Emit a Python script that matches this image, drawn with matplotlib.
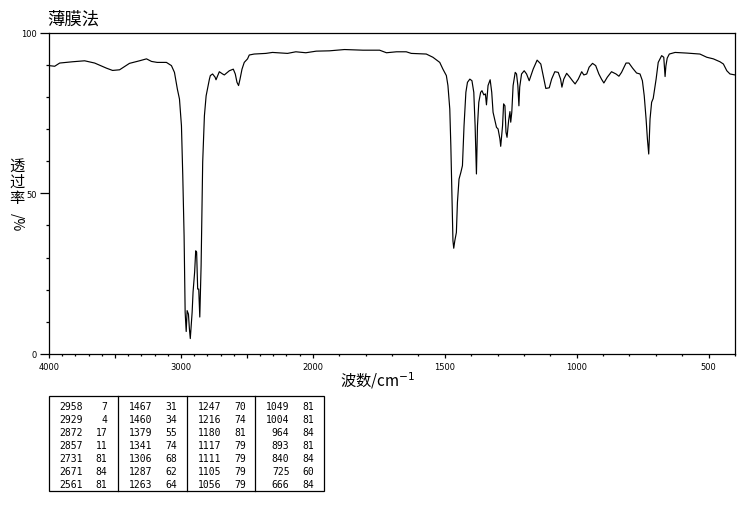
import numpy as np
import matplotlib
matplotlib.use("Agg")
import matplotlib.pyplot as plt
from matplotlib.ticker import FixedLocator, FuncFormatter

plt.rcParams['font.family'] = ['Noto Sans CJK SC', 'DejaVu Sans']

# ---------------- data ----------------
wavenumber = [4000, 3957, 3919, 3821, 3730, 3654, 3564, 3518, 3465, 3390, 3314, 3261, 3223, 3180,
              3110, 3072, 3049, 3027, 3011, 2996, 2986, 2976, 2968, 2960, 2953, 2943, 2936, 2929,
              2915, 2908, 2896, 2888, 2881, 2873, 2865, 2857, 2847, 2840, 2835, 2822, 2809, 2784,
              2777, 2760, 2741, 2734, 2709, 2684, 2671, 2654, 2633, 2603, 2588, 2575, 2563, 2552,
              2537, 2520, 2495, 2482, 2445, 2356, 2306, 2192, 2129, 2053, 1987, 1937, 1880, 1810,
              1747, 1721, 1683, 1646, 1627, 1570, 1545, 1519, 1507, 1494, 1488, 1481, 1477, 1472,
              1469, 1466, 1462, 1456, 1452, 1446, 1439, 1433, 1427, 1420, 1414, 1405, 1397, 1390,
              1385, 1380, 1376, 1371, 1364, 1359, 1352, 1346, 1342, 1336, 1328, 1322, 1317, 1310,
              1304, 1298, 1291, 1288, 1281, 1277, 1272, 1268, 1264, 1258, 1253, 1250, 1246, 1241,
              1233, 1228, 1223, 1219, 1216, 1209, 1199, 1190, 1180, 1165, 1150, 1136, 1127, 1117,
              1104, 1095, 1083, 1070, 1061, 1056, 1049, 1038, 1026, 1016, 1006, 994, 981, 973,
              962, 953, 940, 928, 916, 906, 897, 884, 868, 851, 840, 830, 813, 802, 788, 773,
              760, 751, 744, 737, 732, 727, 722, 716, 710, 699, 691, 678, 670, 667, 665, 662,
              657, 649, 640, 627, 583, 533, 507, 482, 457, 444, 431, 419, 400]
transmittance = [89.7, 89.5, 90.5, 90.9, 91.2, 90.5, 88.9, 88.2, 88.4, 90.4, 91.2, 91.8, 91.0, 90.7,
                 90.7, 89.7, 87.6, 82.4, 79.3, 71.0, 55.5, 36.8, 13.0, 7.0, 13.5, 12.4, 8.0, 4.8,
                 13.0, 19.3, 25.5, 32.1, 31.7, 20.2, 20.2, 11.5, 27.5, 47.3, 59.7, 74.1, 80.3, 85.5,
                 86.6, 87.1, 86.1, 85.3, 87.8, 87.1, 86.8, 87.4, 88.1, 88.6, 87.1, 84.5, 83.5, 85.5,
                 88.6, 90.7, 91.8, 93.0, 93.3, 93.5, 93.8, 93.5, 94.0, 93.7, 94.2, 94.3, 94.7, 94.5,
                 94.5, 93.7, 94.0, 94.0, 93.5, 93.3, 92.3, 90.7, 88.6, 86.6, 83.5, 76.2, 64.8, 46.1,
                 35.2, 32.9, 35.2, 37.8, 47.2, 54.4, 56.5, 58.6, 71.0, 81.4, 84.5, 85.5, 85.0, 81.4,
                 71.0, 56.0, 71.0, 78.3, 81.4, 81.9, 80.6, 80.9, 77.5, 83.5, 85.3, 81.4, 75.2, 72.6,
                 70.5, 70.0, 66.9, 64.6, 71.0, 77.8, 77.2, 69.0, 67.4, 72.6, 75.4, 72.1, 75.2, 83.5,
                 87.6, 87.1, 83.5, 77.2, 83.0, 87.1, 88.1, 87.1, 85.0, 88.6, 91.4, 90.2, 86.6, 82.6,
                 82.8, 85.5, 87.8, 87.6, 85.5, 83.0, 85.5, 87.3, 86.1, 85.0, 84.0, 85.5, 87.8, 86.8,
                 87.1, 89.2, 90.4, 89.7, 87.1, 85.5, 84.3, 86.1, 87.8, 87.1, 86.4, 87.6, 90.5, 90.5,
                 88.9, 87.4, 87.1, 85.0, 80.3, 73.1, 66.9, 62.2, 73.1, 78.3, 79.5, 85.5, 90.7, 92.8,
                 92.3, 88.6, 86.3, 89.5, 92.0, 93.3, 93.5, 93.8, 93.6, 93.3, 92.3, 91.8, 90.9, 90.2,
                 88.1, 87.1, 86.8]

x_major_ticks = [4000, 3500, 3000, 2500, 2000, 1500, 1000, 500]
x_tick_labels = {4000: "4000", 3000: "3000", 2000: "2000", 1500: "1500", 1000: "1000", 500: "500"}
y_major_ticks = [0, 50, 100]

peak_table = [
    [(2958, 7), (2929, 4), (2872, 17), (2857, 11), (2731, 81), (2671, 84), (2561, 81)],
    [(1467, 31), (1460, 34), (1379, 55), (1341, 74), (1306, 68), (1287, 62), (1263, 64)],
    [(1247, 70), (1216, 74), (1180, 81), (1117, 79), (1111, 79), (1105, 79), (1056, 79)],
    [(1049, 81), (1004, 81), (964, 84), (893, 81), (840, 84), (725, 60), (666, 84)],
]

title_text = "薄膜法"
xlabel_text = "波数/cm$^{-1}$"
ylabel_chars = ["透", "过", "率"]

# ---------------- figure ----------------
W, H = 737, 510
fig = plt.figure(figsize=(W / 100, H / 100), dpi=100)
ax = fig.add_axes([49 / W, 1 - 355 / H, (735 - 49) / W, (355 - 33.5) / H])


def fwd(x):
    x = np.asarray(x, dtype=float)
    return np.where(x >= 2000, 3.2 + (x - 2000) / 1000.0, (x - 400) / 500.0)


def inv(u):
    u = np.asarray(u, dtype=float)
    return np.where(u >= 3.2, 2000 + (u - 3.2) * 1000.0, 400 + u * 500.0)


ax.set_xscale('function', functions=(fwd, inv))
ax.plot(wavenumber, transmittance, color='black', lw=0.85)
ax.set_xlim(4000, 400)
ax.set_ylim(0, 100)

minor_x = [v for v in range(4000, 399, -100) if v not in x_major_ticks]
ax.xaxis.set_major_locator(FixedLocator(x_major_ticks))
ax.xaxis.set_minor_locator(FixedLocator(minor_x))
ax.xaxis.set_major_formatter(FuncFormatter(lambda v, p: x_tick_labels.get(int(round(v)), "")))
ax.yaxis.set_major_locator(FixedLocator(y_major_ticks))
ax.yaxis.set_minor_locator(FixedLocator([v for v in range(10, 100, 10) if v != 50]))

ax.tick_params(axis='x', which='major', length=3.2, width=0.9, direction='out', labelsize=6, pad=2.5)
ax.tick_params(axis='x', which='minor', length=1.7, width=0.9, direction='out')
ax.tick_params(axis='y', which='major', length=6.5, width=0.9, direction='out', labelsize=6, pad=2)
ax.tick_params(axis='y', which='minor', length=2.0, width=0.9, direction='out')
for lab in ax.get_xticklabels() + ax.get_yticklabels():
    lab.set_family('DejaVu Sans')
for s in ax.spines.values():
    s.set_linewidth(0.9)

# title
fig.text(47 / W, 1 - 20 / H, title_text, fontsize=12.5, ha='left', va='center')
# x label
fig.text(378 / W, 1 - 381 / H, xlabel_text, fontsize=11, ha='center', va='center')
# y label (stacked)
for i, ch in enumerate(ylabel_chars):
    fig.text(17 / W, 1 - (166 + 16.5 * i) / H, ch, fontsize=11, ha='center', va='center')
fig.text(17 / W, 1 - 222 / H, "/%", fontsize=10, ha='center', va='center', rotation=-90)

# peak table
tx0, tx1, ty0, ty1 = 48.5, 323.5, 397, 492
col_edges = [48.5, 118.5, 187, 255.5, 323.5]
fig.add_artist(plt.Rectangle((tx0 / W, 1 - ty1 / H), (tx1 - tx0) / W, (ty1 - ty0) / H,
                             fill=False, lw=0.9, edgecolor='black', transform=fig.transFigure))
for xe in col_edges[1:-1]:
    fig.add_artist(plt.Line2D([xe / W, xe / W], [1 - ty1 / H, 1 - ty0 / H], lw=0.9,
                              color='black', transform=fig.transFigure))
for c, col in enumerate(peak_table):
    left = col_edges[c]
    for r, (wn, tv) in enumerate(col):
        yy = 1 - (407.5 + 13 * r) / H
        fig.text((left + 34) / W, yy, str(wn), fontsize=7, family='DejaVu Sans Mono',
                 ha='right', va='center')
        fig.text((left + 59) / W, yy, str(tv), fontsize=7, family='DejaVu Sans Mono',
                 ha='right', va='center')

fig.savefig("out.png", dpi=100)
